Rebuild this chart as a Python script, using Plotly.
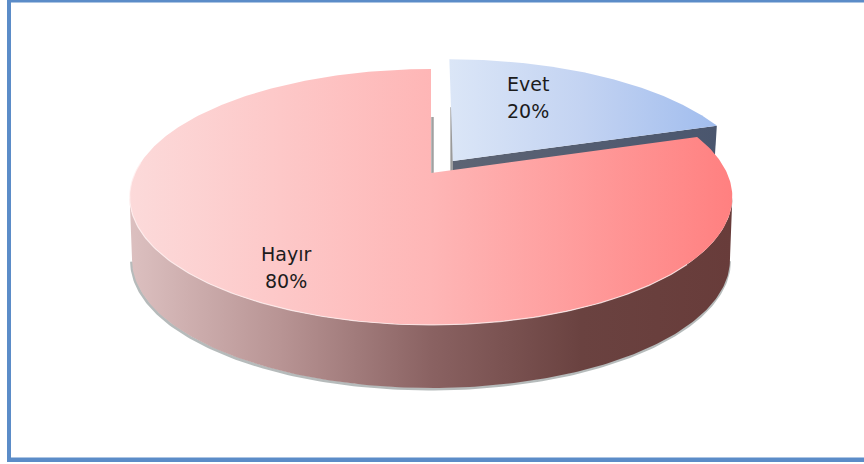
import numpy as np
import plotly.graph_objects as go

# ---- data ----
labels = ["Evet", "Hayır"]
values = [20, 80]

# ---- styling / projection ----
TOP_STOPS = {
    "Evet": ["#dbe6f7", "#c3d3f2", "#a1bdee"],
    "Hayır": ["#fcdada", "#feb6b6", "#ff8080"],
}
WALL_STOPS = ["#dcc0c0", "#b89494", "#8a6262", "#6a4240", "#683c3a"]
EVET_WALL = ["#5d6474", "#4a566e"]
CX, CY, R = 431.0, 173.0, 296.0
A, C = -91.06, 0.1875
DEPTH = 63.0
EXPLODE = {"Evet": (0.075, 0.099), "Hayır": (0.0, 0.0)}
SCALE = {"Evet": 1.015, "Hayır": 1.0}


def project(theta_deg, r=1.0, du=0.0, dv=0.0):
    t = np.radians(theta_deg)
    u = r * np.sin(t) + du
    v = r * np.cos(t) + dv
    d = 1 + C * v
    return CX + R * u / d, (CY + A * v) / d


def scale_stops(stops):
    return [[i / (len(stops) - 1), c] for i, c in enumerate(stops)]


sweeps = [360.0 * v / sum(values) for v in values]
bounds = np.cumsum([0.0] + sweeps)
arc = {
    name: np.linspace(bounds[i], bounds[i + 1], 360)
    for i, name in enumerate(labels)
}

fig = go.Figure()


def poly(x, y, stops=None, color=None):
    kw = dict(x=x, y=y, mode="lines", fill="toself", line=dict(width=0),
              hoverinfo="skip", showlegend=False)
    if stops:
        kw["fillgradient"] = dict(type="horizontal", colorscale=scale_stops(stops))
    else:
        kw["fillcolor"] = color
    fig.add_trace(go.Scatter(**kw))


def line(x, y, color, width):
    fig.add_trace(go.Scatter(x=x, y=y, mode="lines", hoverinfo="skip", showlegend=False,
                             line=dict(color=color, width=width)))


# --- Evet slice (exploded, behind Hayır) ---
du, dv = EXPLODE["Evet"]
r = SCALE["Evet"]
ex, ey = project(arc["Evet"], r, du, dv)
ax, ay = project(0.0, 0.0, du, dv)
# cut wall along the lower radial edge
wx = np.array([ax, ex[-1], ex[-1] - 2, ax])
wy = np.array([ay, ey[-1], ey[-1] + DEPTH * 0.5, ay + DEPTH * 0.5])
poly(wx, wy, stops=EVET_WALL)
# thin shadow on its left radial edge
line([ax - 1.2, ax - 1.2], [ey[0] + 48, ay + 10], "rgba(120,120,120,0.75)", 2.5)
poly(np.r_[ax, ex, ax], np.r_[ay, ey, ay], stops=TOP_STOPS["Evet"])

# --- Hayır slice ---
hx, hy = project(arc["Hayır"])
hax, hay = project(0.0, 0.0)
# the wall runs between the two points where the rim turns back horizontally
theta = arc["Hayır"]
t_right = theta[np.argmax(hx)]
t_left = theta[np.argmin(hx)]
front = theta[(theta >= t_right) & (theta <= t_left)]
fx, fy = project(front)
bx = CX + (fx - CX) * 0.992
by = fy + DEPTH
# soft outer shadow, then side wall
line(bx - 0.5, by + 1.0, "rgba(110,120,120,0.5)", 3)
poly(np.r_[fx, bx[::-1]], np.r_[fy, by[::-1]], stops=WALL_STOPS)
# shadow along the notch edge
line([hax + 1.5, hax + 1.5], [hay - 56, hay], "rgba(130,130,130,0.75)", 2.5)
poly(np.r_[hax, hx, hax], np.r_[hay, hy, hay], stops=TOP_STOPS["Hayır"])
# light bevel on the front rim
rim = theta[(theta >= 130) & (theta <= 275)]
rx, ry = project(rim)
line(rx, ry, "rgba(255,240,240,0.75)", 1.2)

# --- frame of the picture ---
FRAME = "#5b8cc8"
shapes = [
    dict(type="rect", xref="x", yref="y", x0=7, x1=864, y0=0, y1=2.5,
         fillcolor=FRAME, line_width=0, layer="above"),
    dict(type="rect", xref="x", yref="y", x0=7, x1=11, y0=0, y1=462,
         fillcolor=FRAME, line_width=0, layer="above"),
    dict(type="rect", xref="x", yref="y", x0=7, x1=864, y0=457.5, y1=462,
         fillcolor=FRAME, line_width=0, layer="above"),
]

# --- labels ---
label_pos = {"Evet": (528, 97.5), "Hayır": (286, 267.5)}
LINE_GAP = 13.5
annotations = []
for name, val in zip(labels, values):
    x0, y0 = label_pos[name]
    for txt, y in ((name, y0 - LINE_GAP), (f"{val}%", y0 + LINE_GAP)):
        annotations.append(dict(x=x0, y=y, xref="x", yref="y", text=txt, showarrow=False,
                                xanchor="center", yanchor="middle",
                                font=dict(family="DejaVu Sans", size=19, color="#1c1c1c")))

fig.update_layout(
    width=864, height=464,
    margin=dict(l=0, r=0, t=0, b=0),
    paper_bgcolor="white", plot_bgcolor="white",
    showlegend=False, shapes=shapes, annotations=annotations,
    xaxis=dict(range=[0, 864], visible=False, fixedrange=True),
    yaxis=dict(range=[464, 0], visible=False, fixedrange=True),
)
fig.write_html(
    "out.html",
    config={"displayModeBar": False},
    post_script="document.body.style.margin='0';document.documentElement.style.overflow='hidden';",
)
